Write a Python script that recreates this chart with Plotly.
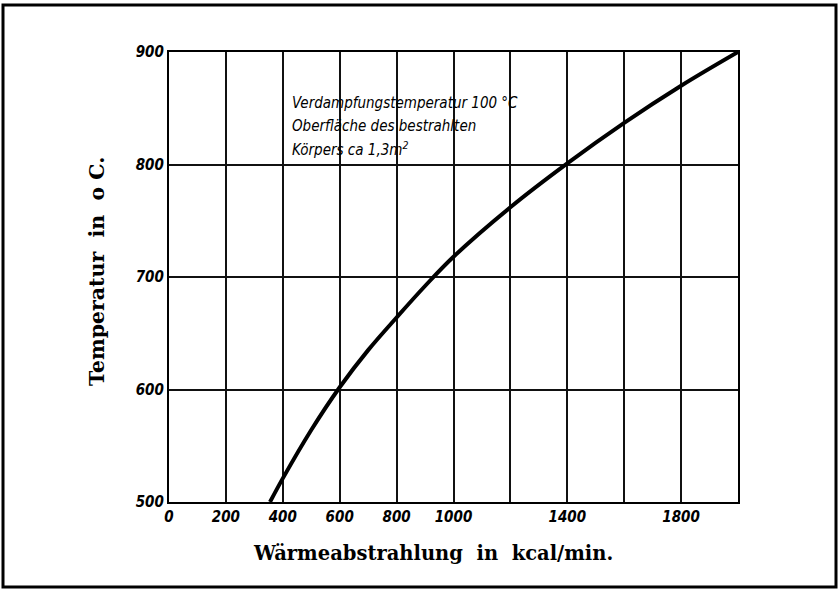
import plotly.graph_objects as go

# Curve (Wärmeabstrahlung kcal/min -> Temperatur °C)
heat_kcal_min = [355, 400, 500, 600, 700, 800, 900, 1000, 1200, 1400, 1600, 1800, 2000]
temperature_c = [500, 521, 564, 602, 635, 664, 692, 718, 762, 801, 837, 870, 900]

x_tick_vals = [0, 200, 400, 600, 800, 1000, 1200, 1400, 1600, 1800, 2000]
x_tick_text = ["0", "200", "400", "600", "800", "1000", " ", "1400", " ", "1800", " "]
y_tick_vals = [500, 600, 700, 800, 900]
y_tick_text = ["500", "600", "700", "800", "900"]

note_lines = ["Verdampfungstemperatur 100 °C",
              "Oberfläche des bestrahlten",
              "Körpers ca 1,3m<sup>2</sup>"]
note_y = [855, 834.5, 814]

hand_font = "Liberation Sans Narrow, DejaVu Sans Condensed, Arial Narrow, sans-serif"
serif_font = "DejaVu Serif, Liberation Serif, serif"

fig = go.Figure()
fig.add_trace(go.Scatter(
    x=heat_kcal_min, y=temperature_c, mode="lines",
    line=dict(color="black", width=4, shape="spline", smoothing=1.0),
    hoverinfo="skip", showlegend=False))

L, R, T, B = 169, 102, 52, 88
W, H = 840, 590
pw, ph = W - L - R, H - T - B

axis_common = dict(showgrid=True, gridcolor="#111111", gridwidth=1.8,
                   showline=True, linecolor="black", linewidth=2.2, mirror=True,
                   zeroline=False, ticks="", ticklen=0,
                   tickfont=dict(family=hand_font, size=15, color="black",
                                 style="italic", weight="bold"))

fig.update_xaxes(range=[0, 2000], tickmode="array", tickvals=x_tick_vals,
                 ticktext=x_tick_text, **axis_common)
fig.update_yaxes(range=[500, 900], tickmode="array", tickvals=y_tick_vals,
                 ticktext=y_tick_text, **axis_common)

for line, yy in zip(note_lines, note_y):
    fig.add_annotation(x=425, y=yy, xref="x", yref="y", text=line,
                       showarrow=False, xanchor="left", yanchor="middle",
                       font=dict(family=hand_font, size=15, color="black",
                                 style="italic"))

# Axis titles
fig.add_annotation(x=(433 - L) / pw, y=(H - B - 553) / ph, xref="paper", yref="paper",
                   text="Wärmeabstrahlung&nbsp; in&nbsp; kcal/min.", showarrow=False,
                   xanchor="center", yanchor="middle",
                   font=dict(family=serif_font, size=19.5, color="black", weight="bold"))
fig.add_annotation(x=(97 - L) / pw, y=(H - B - 272) / ph, xref="paper", yref="paper",
                   text="Temperatur&nbsp; in&nbsp; o C.", showarrow=False, textangle=-90,
                   xanchor="center", yanchor="middle",
                   font=dict(family=serif_font, size=20.5, color="black", weight="bold"))

# Outer frame around the whole picture
fig.add_shape(type="rect", xref="paper", yref="paper",
              x0=(3 - L) / pw, x1=(836 - L) / pw,
              y0=(H - B - 587) / ph, y1=(H - B - 5) / ph,
              line=dict(color="black", width=3), fillcolor="rgba(0,0,0,0)")

fig.update_layout(width=W, height=H, margin=dict(l=L, r=R, t=T, b=B),
                  paper_bgcolor="white", plot_bgcolor="white")

fig.write_html("out.html", config={"displayModeBar": False},
               post_script="document.body.style.margin='0';")
